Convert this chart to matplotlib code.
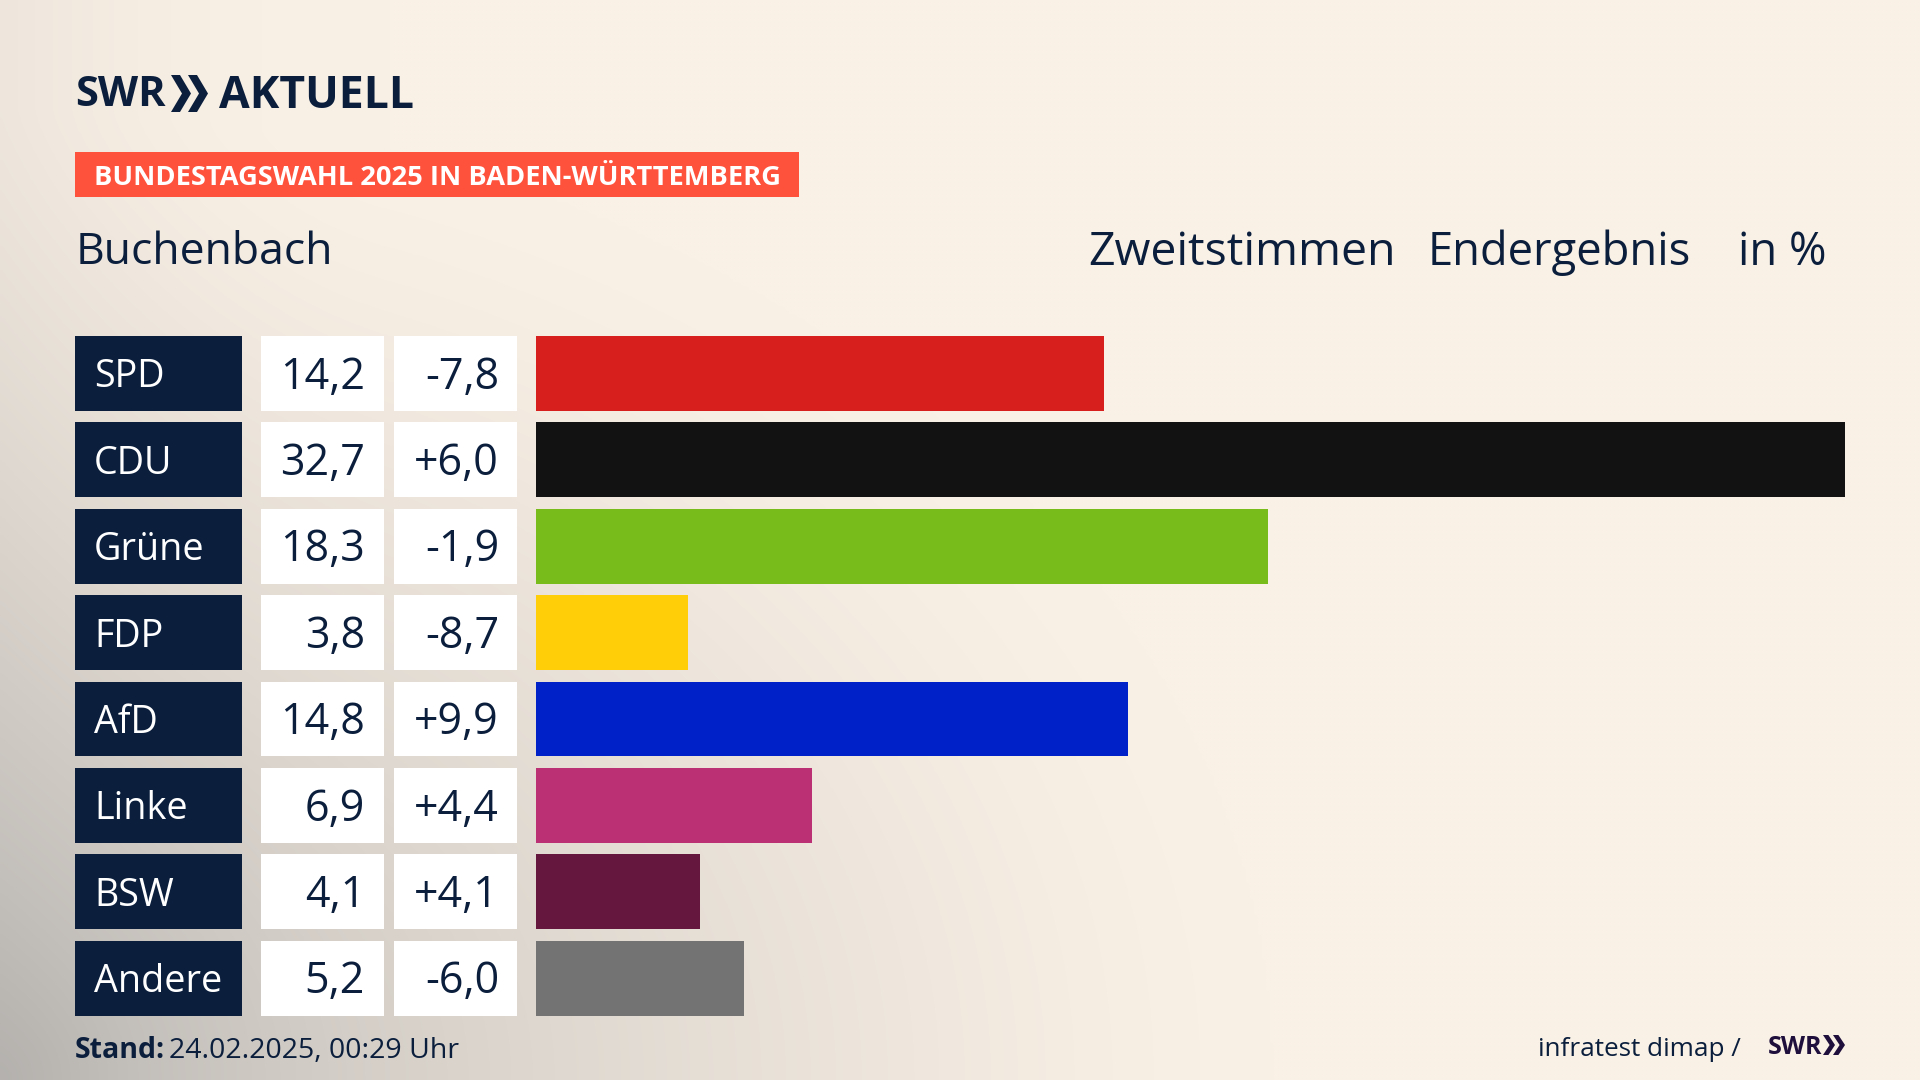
#!/usr/bin/env python3
"""SWR Aktuell: Zweitstimmen Buchenbach, Bundestagswahl 2025."""

import matplotlib
matplotlib.use("Agg")
import matplotlib.pyplot as plt
from matplotlib.patches import Polygon, Rectangle
import numpy as np

W, H = 1920, 1080
NAVY = "#0b1f3d"
FONT = "Open Sans"

parties = ["SPD", "CDU", "Grüne", "FDP", "AfD", "Linke", "BSW", "Andere"]
shares = [14.2, 32.7, 18.3, 3.8, 14.8, 6.9, 4.1, 5.2]
share_labels = ["14,2", "32,7", "18,3", "3,8", "14,8", "6,9", "4,1", "5,2"]
diff_labels = ["-7,8", "+6,0", "-1,9", "-8,7", "+9,9", "+4,4", "+4,1", "-6,0"]
colors = ["#d71f1d", "#121212", "#78bc1b", "#ffce08", "#0021c8", "#bb3075", "#66173d", "#737373"]


def draw_background(fig):
    ax = fig.add_axes([0, 0, 1, 1], zorder=0)
    yy, xx = np.mgrid[0:1:270j, 0:1:480j]
    # grey glow from the bottom left corner fading into cream
    d = np.sqrt((xx / 0.66) ** 2 + ((1 - yy) / 0.9) ** 2)
    glow = np.clip(1 - d, 0, 1) ** 1.3
    side = np.clip(1 - xx / 0.2, 0, 1) ** 2 * 0.12
    amount = np.clip(glow * 0.58 + side, 0, 1)[..., None]
    cream = np.array([250, 241, 230]) / 255
    grey = np.array([150, 150, 150]) / 255
    ax.imshow(cream * (1 - amount) + grey * amount, extent=(0, W, H, 0), aspect="auto", interpolation="bicubic")
    ax.set_xlim(0, W)
    ax.set_ylim(H, 0)
    ax.axis("off")
    return ax


def chevrons(ax, x, y, h, w, gap, color):
    # double arrow of the SWR logo
    for k in range(2):
        x0 = x + k * gap
        pts = [(x0, y), (x0 + w * 0.45, y), (x0 + w, y + h / 2), (x0 + w * 0.45, y + h), (x0, y + h), (x0 + w * 0.55, y + h / 2)]
        ax.add_patch(Polygon(pts, closed=True, color=color, lw=0))


def main():
    fig = plt.figure(figsize=(W / 100, H / 100), dpi=100)
    bg = draw_background(fig)

    row_top = 336.0
    row_step = 86.4
    row_h = 74.8

    # header
    bg.text(75, 96, "SWR", fontsize=30, fontweight="bold", family=FONT, color=NAVY, va="center", ha="left")
    chevrons(bg, 171, 75, 37, 20, 17, NAVY)
    bg.text(219, 96, "AKTUELL", fontsize=32, fontweight="bold", family=FONT, color=NAVY, va="center", ha="left")
    bg.add_patch(Rectangle((75, 152), 724, 45, color="#ff523d", lw=0))
    bg.text(94, 178, "BUNDESTAGSWAHL 2025 IN BADEN-WÜRTTEMBERG", fontsize=19.6, fontweight="bold",
            family=FONT, color="white", va="center", ha="left")
    bg.text(76, 253, "Buchenbach", fontsize=32, family=FONT, color=NAVY, va="center", ha="left")
    bg.text(1088, 253, "Zweitstimmen", fontsize=33.4, family=FONT, color=NAVY, va="center", ha="left")
    bg.text(1428, 253, "Endergebnis", fontsize=32.7, family=FONT, color=NAVY, va="center", ha="left")
    bg.text(1826, 253, "in %", fontsize=32.7, family=FONT, color=NAVY, va="center", ha="right")

    # table cells left of the bars
    for i, party in enumerate(parties):
        top = row_top + i * row_step
        mid = top + row_h / 2
        bg.add_patch(Rectangle((75, top), 167, row_h, color=NAVY, lw=0))
        bg.add_patch(Rectangle((261, top), 123, row_h, color="white", lw=0))
        bg.add_patch(Rectangle((394, top), 123, row_h, color="white", lw=0))
        bg.text(94, mid + 4, party, fontsize=27.2, family=FONT, color="white", va="center", ha="left")
        bg.text(365, mid + 4, share_labels[i], fontsize=31, family=FONT, color=NAVY, va="center", ha="right")
        bg.text(499, mid + 4, diff_labels[i], fontsize=31, family=FONT, color=NAVY, va="center", ha="right")

    # bars
    bar_left, bar_right = 535.7, 1845
    top_edge = row_top
    bottom_edge = row_top + 7 * row_step + row_h
    ax = fig.add_axes([bar_left / W, 1 - bottom_edge / H, (bar_right - bar_left) / W, (bottom_edge - top_edge) / H], zorder=1)
    ax.patch.set_alpha(0)
    y = np.arange(len(parties))
    pad = (row_h / row_step) / 2
    ax.barh(y, shares, height=row_h / row_step, color=colors)
    ax.set_xlim(0, max(shares))
    ax.set_ylim(len(parties) - 1 + pad, -pad)
    ax.axis("off")

    # footer
    bg.text(75, 1051, "Stand:", fontsize=20.5, fontweight="bold", family=FONT, color=NAVY, va="center", ha="left")
    bg.text(169, 1051, "24.02.2025, 00:29 Uhr", fontsize=20.5, family=FONT, color=NAVY, va="center", ha="left")
    bg.text(1741, 1049, "infratest dimap /", fontsize=18.8, family=FONT, color=NAVY, va="center", ha="right")
    bg.text(1768, 1048, "SWR", fontsize=18, fontweight="bold", family=FONT, color="#1e0f3c", va="center", ha="left")
    chevrons(bg, 1823, 1035, 20, 12, 10, "#1e0f3c")

    fig.savefig("out.png", dpi=100)
    plt.close(fig)


if __name__ == "__main__":
    main()
